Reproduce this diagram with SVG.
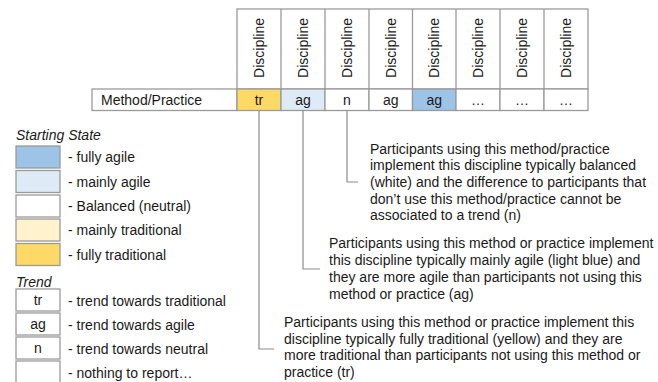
<svg xmlns="http://www.w3.org/2000/svg" width="658" height="382" viewBox="0 0 658 382">
<style>
text{font-family:"Liberation Sans",Arial,sans-serif;font-size:14px;fill:#1a1a1a}
.c{stroke:#9a9a9a;stroke-width:1.3}
.t{text-anchor:middle}
.i{font-style:italic}
.conn{fill:none;stroke:#8c8c8c;stroke-width:1.2}
.fa{fill:#9dc3e6}.ma{fill:#deeaf6}.w{fill:#fff}.mt{fill:#fff2cc}.ft{fill:#ffd966}
</style>
<rect width="658" height="382" fill="#fff"/>
<g id="header">
<rect class="c w" x="237" y="9" width="351" height="80"/>
<g class="c"><line x1="281" y1="9" x2="281" y2="89"/><line x1="325" y1="9" x2="325" y2="89"/><line x1="369" y1="9" x2="369" y2="89"/><line x1="412.5" y1="9" x2="412.5" y2="89"/><line x1="456" y1="9" x2="456" y2="89"/><line x1="500" y1="9" x2="500" y2="89"/><line x1="544" y1="9" x2="544" y2="89"/></g>
<g class="t">
<text transform="translate(264,48) rotate(-90)">Discipline</text>
<text transform="translate(308,48) rotate(-90)">Discipline</text>
<text transform="translate(352,48) rotate(-90)">Discipline</text>
<text transform="translate(395.7,48) rotate(-90)">Discipline</text>
<text transform="translate(439.3,48) rotate(-90)">Discipline</text>
<text transform="translate(483,48) rotate(-90)">Discipline</text>
<text transform="translate(527,48) rotate(-90)">Discipline</text>
<text transform="translate(571,48) rotate(-90)">Discipline</text>
</g>
</g>
<g id="row">
<rect class="c w" x="92" y="89" width="145" height="21.5"/>
<text x="101" y="105">Method/Practice</text>
<rect class="c ft" x="237" y="89" width="44" height="21.5"/>
<rect class="c ma" x="281" y="89" width="44" height="21.5"/>
<rect class="c w" x="325" y="89" width="44" height="21.5"/>
<rect class="c w" x="369" y="89" width="43.5" height="21.5"/>
<rect class="c fa" x="412.5" y="89" width="43.5" height="21.5"/>
<rect class="c w" x="456" y="89" width="44" height="21.5"/>
<rect class="c w" x="500" y="89" width="44" height="21.5"/>
<rect class="c w" x="544" y="89" width="44" height="21.5"/>
<g class="t">
<text x="259" y="105">tr</text><text x="303" y="105">ag</text><text x="347" y="105">n</text><text x="390.7" y="105">ag</text><text x="434.3" y="105">ag</text><text x="478" y="105">…</text><text x="522" y="105">…</text><text x="566" y="105">…</text>
</g>
</g>
<g id="connectors">
<polyline class="conn" points="259,110.5 259,349 274,349"/>
<polyline class="conn" points="303,110.5 303,269 320,269"/>
<polyline class="conn" points="347,110.5 347,182 358,182"/>
</g>
<g id="note-n">
<text x="370" y="153.5">Participants using this method/practice</text>
<text x="370" y="170">implement this discipline typically balanced</text>
<text x="370" y="187">(white) and the difference to participants that</text>
<text x="370" y="203.5">don’t use this method/practice cannot be</text>
<text x="370" y="220">associated to a trend (n)</text>
</g>
<g id="note-ag">
<text x="329" y="248">Participants using this method or practice implement</text>
<text x="329" y="265">this discipline typically mainly agile (light blue) and</text>
<text x="329" y="282">they are more agile than participants not using this</text>
<text x="329" y="298.5">method or practice (ag)</text>
</g>
<g id="note-tr">
<text x="284" y="327">Participants using this method or practice implement this</text>
<text x="284" y="343.5">discipline typically fully traditional (yellow) and they are</text>
<text x="284" y="360">more traditional than participants not using this method or</text>
<text x="284" y="376.5">practice (tr)</text>
</g>
<g id="legend-state">
<text class="i" x="16" y="140">Starting State</text>
<rect class="c fa" x="16" y="146" width="44" height="22"/>
<rect class="c ma" x="16" y="170.5" width="44" height="22"/>
<rect class="c w" x="16" y="195" width="44" height="22"/>
<rect class="c mt" x="16" y="219" width="44" height="22"/>
<rect class="c ft" x="16" y="243.5" width="44" height="22"/>
<text x="68" y="162">- fully agile</text>
<text x="68" y="186.5">- mainly agile</text>
<text x="68" y="211">- Balanced (neutral)</text>
<text x="68" y="235">- mainly traditional</text>
<text x="68" y="259.5">- fully traditional</text>
</g>
<g id="legend-trend">
<text class="i" x="16" y="286.5">Trend</text>
<rect class="c w" x="16" y="289" width="44" height="22"/>
<rect class="c w" x="16" y="313" width="44" height="22"/>
<rect class="c w" x="16" y="337" width="44" height="22"/>
<rect class="c w" x="16" y="361" width="44" height="22"/>
<g class="t"><text x="38" y="305">tr</text><text x="38" y="329">ag</text><text x="38" y="353">n</text></g>
<text x="68" y="306">- trend towards traditional</text>
<text x="68" y="330">- trend towards agile</text>
<text x="68" y="354">- trend towards neutral</text>
<text x="68" y="378">- nothing to report…</text>
</g>
</svg>
